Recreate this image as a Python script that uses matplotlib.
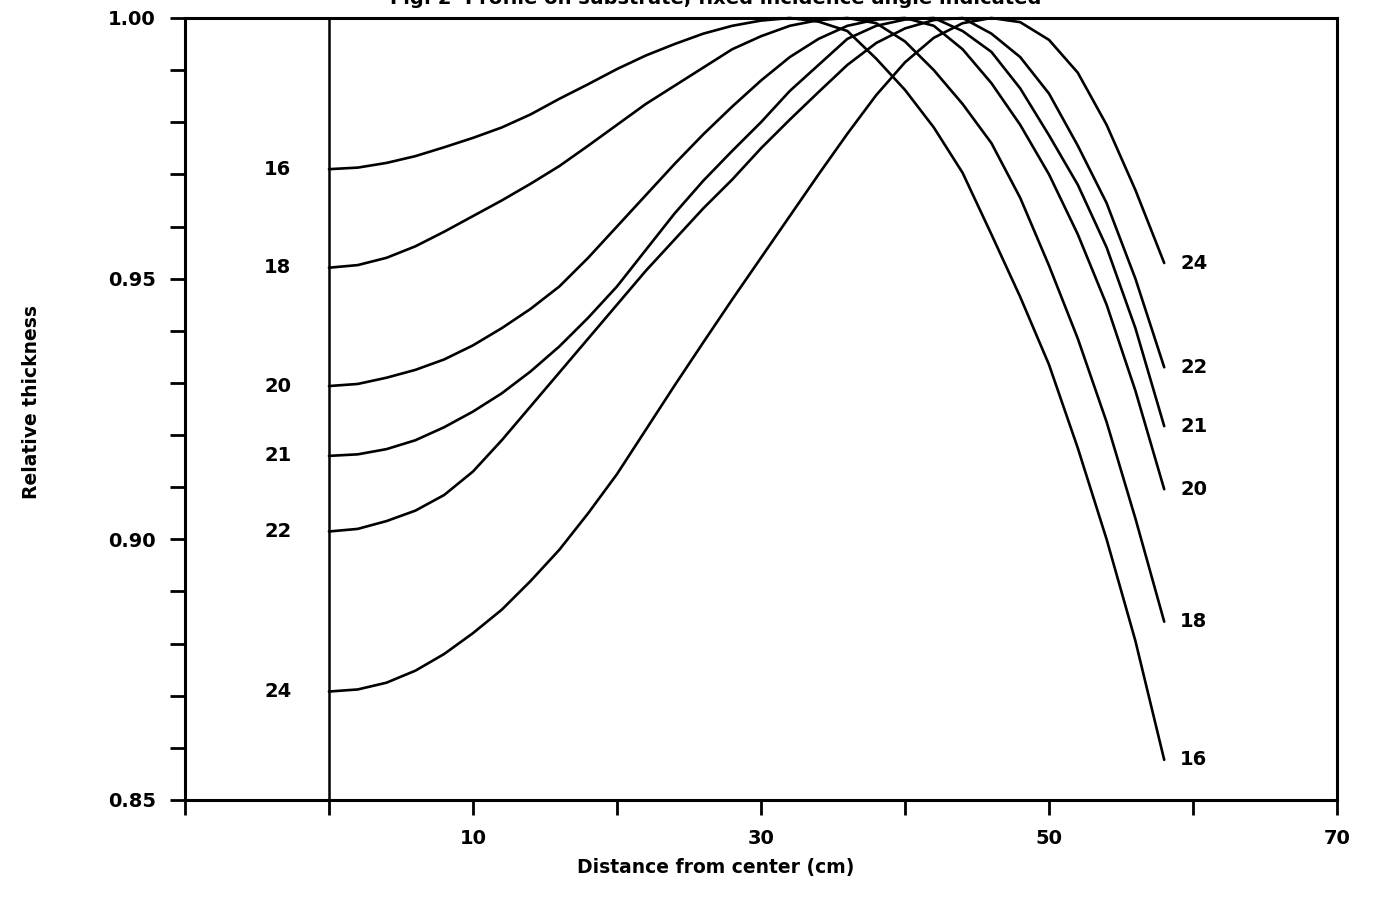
import matplotlib.pyplot as plt

# distance from center (cm), common grid for all curves
distance = [0, 2, 4, 6, 8, 10, 12, 14, 16, 18, 20, 22, 24, 26, 28,
            30, 32, 34, 36, 38, 40, 42, 44, 46, 48, 50, 52, 54, 56, 58]

# relative thickness per incidence angle
thick_16 = [0.9710, 0.9713, 0.9722, 0.9735, 0.9752, 0.9770, 0.9790, 0.9815, 0.9845, 0.9873, 0.9902, 0.9928, 0.9950, 0.9970, 0.9985,
            0.9995, 1.0000, 0.9993, 0.9975, 0.9922, 0.9862, 0.9790, 0.9703, 0.9585, 0.9465, 0.9335, 0.9175, 0.9000, 0.8805, 0.8577]
thick_18 = [0.9521, 0.9526, 0.9540, 0.9562, 0.9590, 0.9620, 0.9650, 0.9682, 0.9716, 0.9755, 0.9795, 0.9835, 0.9870, 0.9905, 0.9940,
            0.9965, 0.9985, 0.9996, 1.0000, 0.9990, 0.9955, 0.9900, 0.9835, 0.9760, 0.9655, 0.9525, 0.9385, 0.9225, 0.9040, 0.8842]
thick_20 = [0.9294, 0.9298, 0.9310, 0.9325, 0.9345, 0.9372, 0.9405, 0.9442, 0.9485, 0.9540, 0.9600, 0.9660, 0.9720, 0.9777, 0.9830,
            0.9880, 0.9925, 0.9960, 0.9985, 0.9997, 1.0000, 0.9985, 0.9940, 0.9875, 0.9795, 0.9700, 0.9585, 0.9450, 0.9285, 0.9096]
thick_21 = [0.9160, 0.9163, 0.9173, 0.9190, 0.9215, 0.9245, 0.9280, 0.9322, 0.9370, 0.9425, 0.9485, 0.9555, 0.9625, 0.9688, 0.9745,
            0.9800, 0.9860, 0.9910, 0.9960, 0.9985, 0.9997, 1.0000, 0.9975, 0.9935, 0.9865, 0.9775, 0.9680, 0.9560, 0.9405, 0.9217]
thick_22 = [0.9015, 0.9020, 0.9035, 0.9055, 0.9085, 0.9130, 0.9190, 0.9255, 0.9320, 0.9385, 0.9450, 0.9515, 0.9575, 0.9635, 0.9690,
            0.9750, 0.9805, 0.9858, 0.9910, 0.9952, 0.9980, 0.9996, 1.0000, 0.9970, 0.9925, 0.9855, 0.9755, 0.9645, 0.9500, 0.9330]
thick_24 = [0.8708, 0.8712, 0.8725, 0.8748, 0.8780, 0.8820, 0.8865, 0.8920, 0.8980, 0.9050, 0.9125, 0.9210, 0.9295, 0.9378, 0.9460,
            0.9540, 0.9620, 0.9700, 0.9778, 0.9852, 0.9915, 0.9962, 0.9990, 1.0000, 0.9992, 0.9958, 0.9895, 0.9795, 0.9670, 0.9530]

angles = ["16", "18", "20", "21", "22", "24"]
curves = [thick_16, thick_18, thick_20, thick_21, thick_22, thick_24]

x_ticks = [-10, 0, 10, 20, 30, 40, 50, 60, 70]
x_tick_labels = ["", "", "10", "", "30", "", "50", "", "70"]
y_ticks = [0.85, 0.86, 0.87, 0.88, 0.89, 0.90, 0.91, 0.92, 0.93, 0.94, 0.95, 0.96, 0.97, 0.98, 0.99, 1.00]
y_tick_labels = ["0.85", "", "", "", "", "0.90", "", "", "", "", "0.95", "", "", "", "", "1.00"]

plt.rcParams["font.family"] = ["DejaVu Sans"]
plt.rcParams["font.weight"] = "bold"

fig = plt.figure(figsize=(13.73, 9.13), dpi=100)
ax = fig.add_axes([0.1347, 0.1238, 0.8391, 0.8565])

for lbl, ys in zip(angles, curves):
    ax.plot(distance, ys, color="black", linewidth=1.9, solid_joinstyle="round",
            solid_capstyle="round", clip_on=False)
    # labels at start and end of each curve
    ax.text(-2.6, ys[0], lbl, ha="right", va="center", fontsize=14, fontweight="bold")
    ax.text(59.1, ys[-1], lbl, ha="left", va="center", fontsize=14, fontweight="bold")

# vertical line at the center
ax.axvline(0, color="black", linewidth=1.8)

ax.set_xlim(-10, 70)
ax.set_ylim(0.85, 1.00)
ax.set_xticks(x_ticks)
ax.set_xticklabels(x_tick_labels)
ax.set_yticks(y_ticks)
ax.set_yticklabels(y_tick_labels)
ax.tick_params(axis="both", direction="out", length=11, width=2, labelsize=14, pad=10)
for lab in ax.get_xticklabels() + ax.get_yticklabels():
    lab.set_fontweight("bold")
for sp in ax.spines.values():
    sp.set_linewidth(2.2)

fig.text(0.521, 0.05, "Distance from center (cm)", ha="center", va="center", fontsize=13.5, fontweight="bold")
fig.text(0.023, 0.56, "Relative thickness", ha="center", va="center", rotation=90, fontsize=13.5, fontweight="bold")
# title is cropped at the top edge in the original
fig.text(0.521, 1.002, "Fig. 2  Profile on substrate, fixed incidence angle indicated",
         ha="center", va="center", fontsize=14, fontweight="bold")

fig.savefig("out.png", dpi=100)
